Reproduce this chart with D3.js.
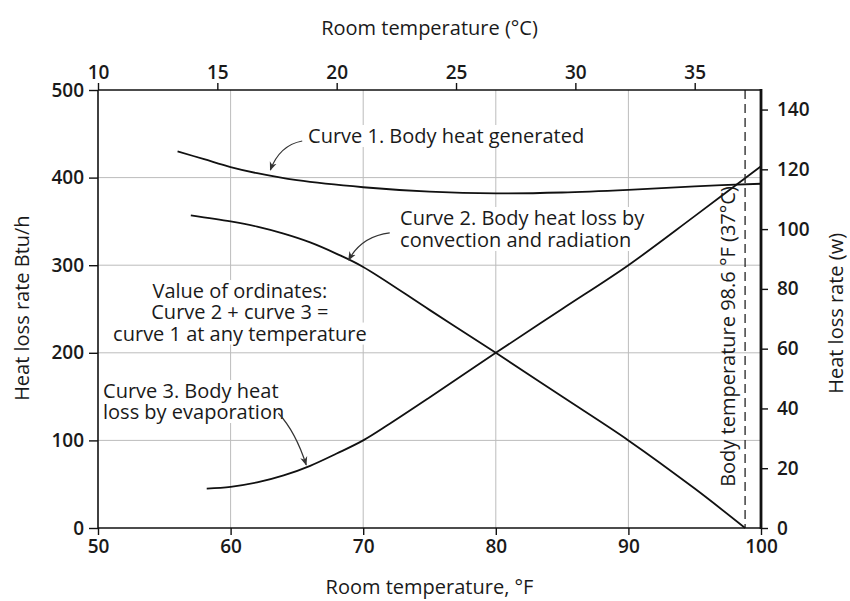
<!DOCTYPE html>
<html lang="en">
<head>
  <meta charset="UTF-8">
  <title>Body heat balance vs room temperature</title>
  <script src="https://d3js.org/d3.v7.min.js"></script>
  <style>
    body {
      margin: 0;
      background: #fff;
    }
    svg text {
      font-family: 'Open Sans', 'Noto Sans', sans-serif;
      fill: #1a1a1a;
    }
    .tick-label {
      font-size: 19px;
      font-weight: 600;
    }
    .axis-title {
      font-size: 20px;
    }
    .note {
      font-size: 20px;
    }
  </style>
</head>
<body>
  <svg id="chart"></svg>

  <script>
    // values (°F, Btu/h)
    const curve1Temp = [56, 58, 60, 62, 65, 70, 75, 80, 85, 90, 95, 100];
    const curve1Rate = [430, 421, 412, 405, 397, 389, 384, 382, 383, 386, 390, 393];

    const curve2Temp = [57, 60, 62, 64, 66, 68, 70, 75, 80, 85, 90, 95, 98.8];
    const curve2Rate = [357, 350, 344, 336, 326, 313, 298, 249, 200, 150, 100, 45, 0];

    const curve3Temp = [58.2, 60, 62, 64, 66, 68, 70, 72, 75, 80, 85, 90, 95, 100];
    const curve3Rate = [45, 47, 52, 60, 71, 85, 100, 119, 149, 200, 250, 300, 356, 413];

    const bodyTempLineF = 98.8;

    const fTicks = [50, 60, 70, 80, 90, 100];
    const cTicks = [10, 15, 20, 25, 30, 35];
    const btuTicks = [0, 100, 200, 300, 400, 500];
    const wTicks = [0, 20, 40, 60, 80, 100, 120, 140];

    const width = 850;
    const height = 601;
    const plotL = 98, plotR = 761, plotT = 90, plotB = 528;

    const svg = d3.select("#chart")
      .attr("width", width)
      .attr("height", height);

    const x = d3.scaleLinear().domain([50, 100]).range([plotL, plotR]);
    const xC = d3.scaleLinear().domain([(50 - 32) * 5 / 9, (100 - 32) * 5 / 9]).range([plotL, plotR]);
    const y = d3.scaleLinear().domain([0, 500]).range([plotB, plotT]);
    const yW = d3.scaleLinear().domain([0, 500 / 3.412]).range([plotB, plotT]);

    svg.append("defs").append("marker")
      .attr("id", "arrow")
      .attr("viewBox", "0 0 10 10")
      .attr("refX", 9)
      .attr("refY", 5)
      .attr("markerWidth", 9)
      .attr("markerHeight", 9)
      .attr("markerUnits", "userSpaceOnUse")
      .attr("orient", "auto")
      .append("path")
      .attr("d", "M0,1 L10,5 L0,9 L3,5 Z")
      .attr("fill", "#333");

    // grid
    const grid = svg.append("g").attr("stroke", "#bcbcbc").attr("stroke-width", 1);
    grid.selectAll("line.v")
      .data(fTicks.slice(1, -1))
      .join("line")
      .attr("class", "v")
      .attr("x1", d => x(d)).attr("x2", d => x(d))
      .attr("y1", plotT).attr("y2", plotB);
    grid.selectAll("line.h")
      .data(btuTicks.slice(1, -1))
      .join("line")
      .attr("class", "h")
      .attr("x1", plotL).attr("x2", plotR)
      .attr("y1", d => y(d)).attr("y2", d => y(d));

    // layers: white backing over grid, then curves, then note text
    const backing = svg.append("g").attr("fill", "#fff");
    const curveLayer = svg.append("g");
    const notes = svg.append("g");

    // curves
    const line = d3.line()
      .x(d => x(d[0]))
      .y(d => y(d[1]))
      .curve(d3.curveCatmullRom.alpha(0.5));

    const curves = [
      d3.zip(curve1Temp, curve1Rate),
      d3.zip(curve2Temp, curve2Rate),
      d3.zip(curve3Temp, curve3Rate)
    ];

    curveLayer.selectAll("path")
      .data(curves)
      .join("path")
      .attr("d", line)
      .attr("fill", "none")
      .attr("stroke", "#111")
      .attr("stroke-width", 1.8);

    // body temperature line
    curveLayer.append("line")
      .attr("x1", x(bodyTempLineF)).attr("x2", x(bodyTempLineF))
      .attr("y1", plotT).attr("y2", plotB)
      .attr("stroke", "#222")
      .attr("stroke-width", 1.3)
      .attr("stroke-dasharray", "9,5");

    function note(lines, fx, rate, anchor, lineGap) {
      lines.forEach((s, i) => {
        const t = notes.append("text")
          .attr("class", "note")
          .attr("text-anchor", anchor)
          .attr("x", x(fx))
          .attr("y", y(rate) + i * lineGap)
          .text(s);
        const b = t.node().getBBox();
        backing.append("rect")
          .attr("x", b.x - 2).attr("y", b.y + 3)
          .attr("width", b.width + 4).attr("height", b.height - 5);
      });
    }

    note(["Curve 1. Body heat generated"], 65.84, 439.5, "start", 0);
    note(["Curve 2. Body heat loss by", "convection and radiation"], 72.78, 345.9, "start", 22);
    note(["Value of ordinates:", "Curve 2 + curve 3 =", "curve 1 at any temperature"], 60.7, 262.6, "middle", 21.3);
    note(["Curve 3. Body heat", "loss by evaporation"], 50.38, 148.4, "start", 21);

    // arrows: start, control, end in (°F, Btu/h)
    const arrows = [
      [[65.4, 441.8], [63.7, 437], [63.0, 408.7]],
      [[72.0, 336.8], [69.9, 333], [68.9, 306]],
      [[63.6, 131], [64.9, 110], [65.7, 72]]
    ];
    notes.append("g")
      .selectAll("path")
      .data(arrows)
      .join("path")
      .attr("d", d => `M${x(d[0][0])},${y(d[0][1])} Q${x(d[1][0])},${y(d[1][1])} ${x(d[2][0])},${y(d[2][1])}`)
      .attr("fill", "none")
      .attr("stroke", "#333")
      .attr("stroke-width", 1.2)
      .attr("marker-end", "url(#arrow)");

    // body temperature label
    notes.append("text")
      .attr("class", "note")
      .attr("text-anchor", "middle")
      .attr("transform", `translate(${x(98.04)},${y(218.6)}) rotate(-90)`)
      .text("Body temperature 98.6 °F (37°C)");

    // frame
    const frame = svg.append("g").attr("stroke", "#111").attr("fill", "none");
    frame.append("line").attr("x1", plotL).attr("x2", plotR).attr("y1", plotT).attr("y2", plotT).attr("stroke-width", 1.6);
    frame.append("line").attr("x1", plotL).attr("x2", plotR).attr("y1", plotB).attr("y2", plotB).attr("stroke-width", 1.6);
    frame.append("line").attr("x1", plotL).attr("x2", plotL).attr("y1", plotT).attr("y2", plotB).attr("stroke-width", 1.6);
    frame.append("line").attr("x1", plotR).attr("x2", plotR).attr("y1", plotT - 1).attr("y2", plotB + 1).attr("stroke-width", 2.8);

    // axes
    function styleAxis(g) {
      g.select(".domain").remove();
      g.selectAll(".tick line").attr("stroke", "#111").attr("stroke-width", 1.4);
      g.selectAll(".tick text").attr("class", "tick-label").attr("fill", null);
    }

    svg.append("g")
      .attr("transform", `translate(0,${plotB})`)
      .call(d3.axisBottom(x).tickValues(fTicks).tickSize(7).tickPadding(5))
      .call(styleAxis);

    svg.append("g")
      .attr("transform", `translate(0,${plotT})`)
      .call(d3.axisTop(xC).tickValues(cTicks).tickSize(7).tickPadding(4))
      .call(styleAxis);

    svg.append("g")
      .attr("transform", `translate(${plotL},0)`)
      .call(d3.axisLeft(y).tickValues(btuTicks).tickSize(9).tickPadding(5))
      .call(styleAxis);

    svg.append("g")
      .attr("transform", `translate(${plotR},0)`)
      .call(d3.axisRight(yW).tickValues(wTicks).tickSize(7).tickPadding(9))
      .call(styleAxis);

    // axis titles
    svg.append("text")
      .attr("class", "axis-title")
      .attr("text-anchor", "middle")
      .attr("x", (plotL + plotR) / 2)
      .attr("y", 35)
      .text("Room temperature (°C)");

    svg.append("text")
      .attr("class", "axis-title")
      .attr("text-anchor", "middle")
      .attr("x", (plotL + plotR) / 2)
      .attr("y", 594)
      .text("Room temperature, °F");

    svg.append("text")
      .attr("class", "axis-title")
      .attr("text-anchor", "middle")
      .attr("transform", `translate(29,${y(251)}) rotate(-90)`)
      .text("Heat loss rate Btu/h");

    svg.append("text")
      .attr("class", "axis-title")
      .attr("text-anchor", "middle")
      .attr("transform", `translate(843,${y(245)}) rotate(-90)`)
      .text("Heat loss rate (w)");
  </script>
</body>
</html>
